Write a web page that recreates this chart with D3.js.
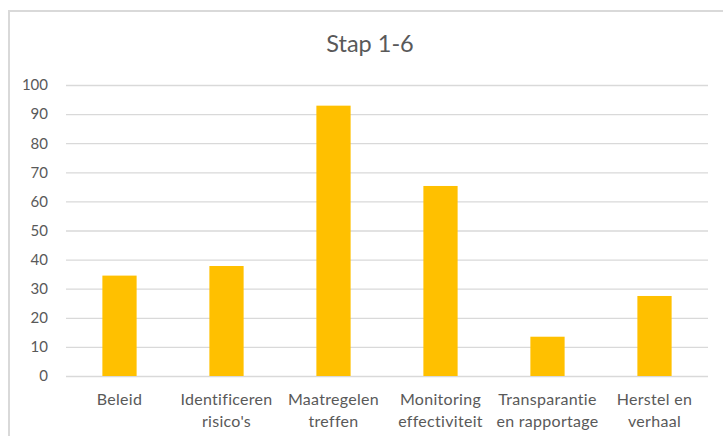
<!DOCTYPE html>
<html>
<head>
<meta charset="utf-8">
<script src="https://cdn.jsdelivr.net/npm/d3@7"></script>
<style>
  html, body { margin: 0; padding: 0; background: #fff; }
  svg { display: block; }
  text { font-family: Lato, "Open Sans", sans-serif; fill: #595959; }
</style>
</head>
<body>
<svg id="chart" width="723" height="436"></svg>
<script>
const title = "Stap 1-6";
const categories = ["Beleid", "Identificeren risico's", "Maatregelen treffen", "Monitoring effectiviteit", "Transparantie en rapportage", "Herstel en verhaal"];
const labelLines = [["Beleid"], ["Identificeren", "risico's"], ["Maatregelen", "treffen"], ["Monitoring", "effectiviteit"], ["Transparantie", "en rapportage"], ["Herstel en", "verhaal"]];
const values = [34.5, 37.8, 92.9, 65.3, 13.5, 27.5];
const yTicks = [0, 10, 20, 30, 40, 50, 60, 70, 80, 90, 100];

const svg = d3.select("#chart");
const margin = { left: 66, right: 15, top: 85, bottom: 60 };

// chart frame
svg.append("rect")
  .attr("x", 9).attr("y", 11)
  .attr("width", 740).attr("height", 440)
  .attr("fill", "#fff")
  .attr("stroke", "#d9d9d9").attr("stroke-width", 2);

const x = d3.scaleBand()
  .domain(categories)
  .range([margin.left, 708])
  .paddingInner(0.68)
  .paddingOuter(0.34);

const y = d3.scaleLinear().domain([0, 100]).range([376, 85]);

// gridlines
const grid = svg.append("g")
  .attr("transform", `translate(${margin.left},0)`)
  .call(d3.axisLeft(y).tickValues(yTicks).tickSize(-(708 - margin.left)).tickFormat(""));
grid.select(".domain").remove();
grid.selectAll("line").attr("stroke", "#d9d9d9").attr("stroke-width", 1.3);

// y tick labels
const yAxis = svg.append("g")
  .attr("transform", `translate(48,0)`)
  .call(d3.axisLeft(y).tickValues(yTicks).tickSize(0).tickPadding(0));
yAxis.select(".domain").remove();
yAxis.selectAll("text")
  .attr("font-size", 15)
  .attr("fill", "#595959")
  .style("font-family", "Lato, sans-serif");

// bars
svg.append("g").selectAll("rect")
  .data(values)
  .join("rect")
  .attr("x", (d, i) => x(categories[i]))
  .attr("width", x.bandwidth())
  .attr("y", d => y(d))
  .attr("height", d => y(0) - y(d))
  .attr("fill", "#ffc000");

// x labels
const xl = svg.append("g").selectAll("text")
  .data(categories)
  .join("text")
  .attr("text-anchor", "middle")
  .attr("font-size", 16)
  .attr("letter-spacing", 0.3)
  .attr("x", d => x(d) + x.bandwidth() / 2)
  .attr("y", 405);
xl.each(function(d, i) {
  const t = d3.select(this);
  labelLines[i].forEach((line, j) => {
    t.append("tspan")
      .attr("x", x(d) + x.bandwidth() / 2)
      .attr("dy", j === 0 ? 0 : 21.5)
      .text(line);
  });
});

// title
svg.append("text")
  .attr("x", 370).attr("y", 52)
  .attr("text-anchor", "middle")
  .attr("font-size", 23.5)
  .text(title);
</script>
</body>
</html>
